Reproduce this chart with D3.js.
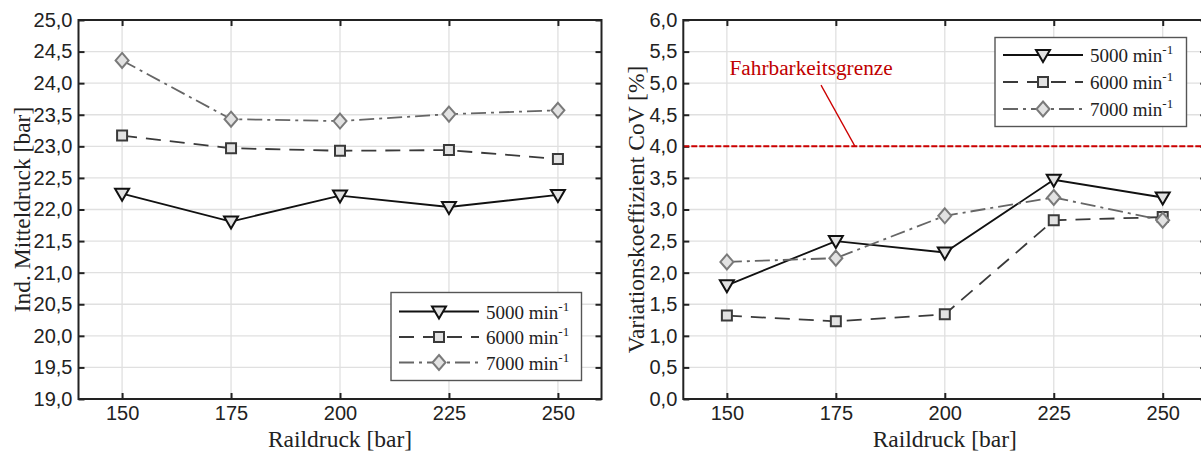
<!DOCTYPE html>
<html>
<head>
<meta charset="utf-8">
<script src="https://cdn.jsdelivr.net/npm/d3@7"></script>
<style>
  html, body { margin: 0; padding: 0; background: #fff; }
  svg { display: block; font-family: "Liberation Serif", "Times New Roman", serif; }
</style>
</head>
<body>
<svg id="chart" width="1201" height="457"></svg>
<script>
// Rail pressure sweep at three engine speeds
const railPressure = [150, 175, 200, 225, 250];
const xTicks = [150, 175, 200, 225, 250];

const speeds = ["5000", "6000", "7000"];

// Indicated mean effective pressure [bar]
const imep5000 = [22.25, 21.81, 22.22, 22.04, 22.23];
const imep6000 = [23.17, 22.97, 22.93, 22.94, 22.80];
const imep7000 = [24.36, 23.43, 23.40, 23.51, 23.57];

// Coefficient of variation [%]
const cov5000 = [1.80, 2.50, 2.32, 3.47, 3.19];
const cov6000 = [1.32, 1.23, 1.34, 2.83, 2.88];
const cov7000 = [2.17, 2.23, 2.90, 3.19, 2.83];

const imepTicks = d3.range(19, 25.001, 0.5);
const covTicks = d3.range(0, 6.001, 0.5);

const limitValue = 4.0;
const limitLabel = "Fahrbarkeitsgrenze";

const svg = d3.select("#chart");
const fmt = v => d3.format(".1f")(v).replace(".", ",");

const styles = {
  "5000": { stroke: "#111", dash: null, marker: "tri", mStroke: "#111" },
  "6000": { stroke: "#3a3a3a", dash: "15,9", marker: "sq", mStroke: "#3a3a3a" },
  "7000": { stroke: "#666", dash: "15,5,3,5", marker: "dia", mStroke: "#7a7a7a" }
};

function markerPath(type) {
  if (type === "tri") return "M-7,-5L7,-5L0,7Z";
  if (type === "sq") return "M-5,-5L5,-5L5,5L-5,5Z";
  return "M0,-7.5L6.5,0L0,7.5L-6.5,0Z";
}

function drawPanel(opts) {
  const { left, right, top, bottom, yDomain, yTicks, series, yTitle, legendPos } = opts;
  const x = d3.scaleLinear().domain([140, 260]).range([left, right]);
  const y = d3.scaleLinear().domain(yDomain).range([bottom, top]);
  const g = svg.append("g");

  // grid
  g.append("g").selectAll("line").data(yTicks.slice(1, -1)).join("line")
    .attr("x1", left).attr("x2", right)
    .attr("y1", d => y(d)).attr("y2", d => y(d))
    .attr("stroke", "#e0e0e0").attr("stroke-width", 1.3);
  g.append("g").selectAll("line").data(xTicks).join("line")
    .attr("y1", top).attr("y2", bottom)
    .attr("x1", d => x(d)).attr("x2", d => x(d))
    .attr("stroke", "#e0e0e0").attr("stroke-width", 1.3);

  // axes with inward ticks
  const ax = (sel) => {
    sel.select(".domain").remove();
    sel.selectAll(".tick line").attr("stroke", "#222").attr("stroke-width", 2);
    sel.selectAll(".tick text").attr("fill", "#222").attr("font-size", 20);
  };
  g.append("g").attr("transform", `translate(0,${bottom})`)
    .call(d3.axisBottom(x).tickValues(xTicks).tickSizeInner(-6).tickSizeOuter(0).tickPadding(7).tickFormat(d3.format("d")))
    .call(ax);
  g.append("g").attr("transform", `translate(0,${top})`)
    .call(d3.axisTop(x).tickValues(xTicks).tickSizeInner(-6).tickSizeOuter(0).tickFormat(""))
    .call(ax);
  g.append("g").attr("transform", `translate(${left},0)`)
    .call(d3.axisLeft(y).tickValues(yTicks).tickSizeInner(-6).tickSizeOuter(0).tickPadding(6).tickFormat(fmt))
    .call(ax);
  g.append("g").attr("transform", `translate(${right},0)`)
    .call(d3.axisRight(y).tickValues(yTicks).tickSizeInner(-6).tickSizeOuter(0).tickFormat(""))
    .call(ax);

  if (opts.limit !== undefined) {
    g.append("line")
      .attr("x1", left).attr("x2", right)
      .attr("y1", y(opts.limit)).attr("y2", y(opts.limit))
      .attr("stroke", "#cc0000").attr("stroke-width", 2).attr("stroke-dasharray", "6,2");
    g.append("line")
      .attr("x1", x(171.6)).attr("y1", y(4.97))
      .attr("x2", x(179.4)).attr("y2", y(limitValue))
      .attr("stroke", "#cc0000").attr("stroke-width", 1.3);
    g.append("text")
      .attr("x", x(150.6)).attr("y", y(5.13))
      .attr("fill", "#c00000").attr("font-size", 21.3)
      .text(limitLabel);
  }

  // series
  series.forEach(s => {
    const st = styles[s.key];
    const pts = railPressure.map((p, i) => [p, s.values[i]]);
    g.append("path")
      .datum(pts)
      .attr("fill", "none")
      .attr("stroke", st.stroke)
      .attr("stroke-width", 1.8)
      .attr("stroke-dasharray", st.dash)
      .attr("d", d3.line().x(d => x(d[0])).y(d => y(d[1])));
    g.append("g").selectAll("path").data(pts).join("path")
      .attr("transform", d => `translate(${x(d[0])},${y(d[1])})`)
      .attr("d", markerPath(st.marker))
      .attr("fill", "#e2e2e2").attr("stroke", st.mStroke).attr("stroke-width", 2);
  });

  // frame
  g.append("rect")
    .attr("x", left).attr("y", top)
    .attr("width", right - left).attr("height", bottom - top)
    .attr("fill", "none").attr("stroke", "#222").attr("stroke-width", 2);

  // titles
  g.append("text")
    .attr("x", (left + right) / 2).attr("y", bottom + 48)
    .attr("text-anchor", "middle").attr("font-size", 23.5).attr("fill", "#222")
    .text("Raildruck [bar]");
  g.append("text")
    .attr("transform", `translate(${opts.yTitleX},${(top + bottom) / 2}) rotate(-90)`)
    .attr("text-anchor", "middle").attr("font-size", 23.5).attr("fill", "#222")
    .text(yTitle);

  // legend
  const L = legendPos;
  const lg = g.append("g").attr("transform", `translate(${L.x},${L.y})`);
  lg.append("rect").attr("width", L.w).attr("height", L.h)
    .attr("fill", "#fff").attr("stroke", "#555").attr("stroke-width", 1.4);
  speeds.forEach((k, i) => {
    const st = styles[k];
    const ry = L.row0 + i * L.rowGap;
    lg.append("line").attr("x1", 8).attr("x2", 88).attr("y1", ry).attr("y2", ry)
      .attr("stroke", st.stroke).attr("stroke-width", 1.8).attr("stroke-dasharray", st.dash);
    lg.append("path").attr("transform", `translate(48,${ry})`).attr("d", markerPath(st.marker))
      .attr("fill", "#e2e2e2").attr("stroke", st.mStroke).attr("stroke-width", 2);
    const t = lg.append("text").attr("x", 95).attr("y", ry + 7).attr("font-size", 19).attr("fill", "#222");
    t.append("tspan").text(k + " min");
    t.append("tspan").attr("dy", -8).attr("font-size", 13).text("-1");
  });
}

drawPanel({
  left: 78.5, right: 601.5, top: 20, bottom: 399,
  yDomain: [19, 25], yTicks: imepTicks,
  series: [
    { key: "5000", values: imep5000 },
    { key: "6000", values: imep6000 },
    { key: "7000", values: imep7000 }
  ],
  yTitle: "Ind. Mitteldruck [bar]", yTitleX: 30,
  legendPos: { x: 391, y: 292.5, w: 190.5, h: 88, row0: 19, rowGap: 25.5 }
});

drawPanel({
  left: 683.3, right: 1206.3, top: 20, bottom: 399,
  yDomain: [0, 6], yTicks: covTicks,
  series: [
    { key: "5000", values: cov5000 },
    { key: "6000", values: cov6000 },
    { key: "7000", values: cov7000 }
  ],
  limit: limitValue,
  yTitle: "Variationskoeffizient CoV [%]", yTitleX: 644,
  legendPos: { x: 995, y: 37.5, w: 191.5, h: 89, row0: 17.5, rowGap: 27 }
});
</script>
</body>
</html>
